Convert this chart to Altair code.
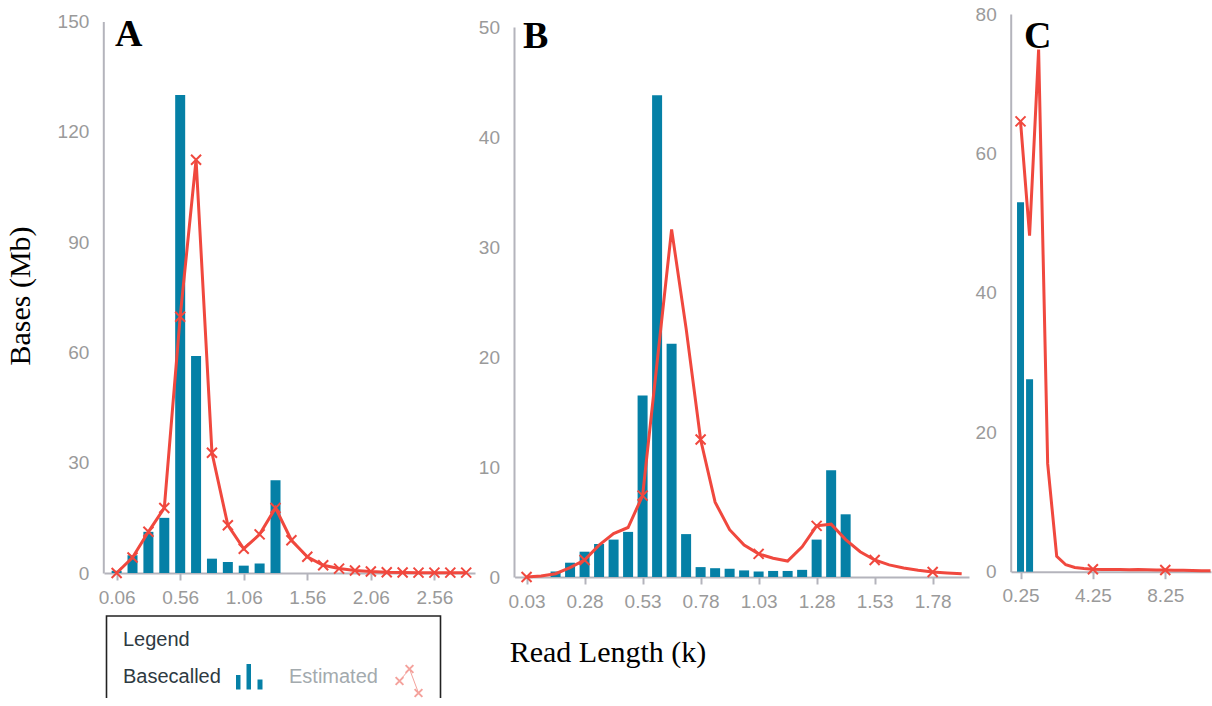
import altair as alt
import pandas as pd

# ---------------- data ----------------
# Panel A
A_BAR_X = [0.06, 0.185, 0.31, 0.435, 0.56, 0.685, 0.81, 0.935, 1.06, 1.185, 1.31]
A_BAR_Y = [0.6, 4.8, 11.2, 15.0, 130.0, 59.0, 3.9, 3.0, 2.0, 2.6, 25.2]
A_LINE_X = [0.06, 0.185, 0.31, 0.435, 0.56, 0.685, 0.81, 0.935, 1.06, 1.185, 1.31, 1.435,
            1.56, 1.685, 1.81, 1.935, 2.06, 2.185, 2.31, 2.435, 2.56, 2.685, 2.81]
A_LINE_Y = [0.0, 4.2, 11.2, 17.7, 69.7, 112.4, 32.7, 13.0, 6.6, 10.5, 17.7, 8.9,
            4.4, 2.1, 1.2, 0.7, 0.4, 0.2, 0.15, 0.1, 0.1, 0.1, 0.1]
A_MARK_X = A_LINE_X
A_XTICKS = [0.06, 0.56, 1.06, 1.56, 2.06, 2.56]
A_YTICKS = [0, 30, 60, 90, 120, 150]

# Panel B
B_BAR_X = [0.155, 0.2175, 0.28, 0.3425, 0.405, 0.4675, 0.53, 0.5925, 0.655, 0.7175, 0.78,
           0.8425, 0.905, 0.9675, 1.03, 1.0925, 1.155, 1.2175, 1.28, 1.3425, 1.405]
B_BAR_Y = [0.5, 1.3, 2.3, 3.0, 3.4, 4.1, 16.5, 43.8, 21.2, 3.9, 0.9,
           0.8, 0.75, 0.6, 0.5, 0.55, 0.55, 0.65, 3.4, 9.7, 5.7]
B_LINE_X = [0.03, 0.0925, 0.155, 0.2175, 0.28, 0.3425, 0.405, 0.4675, 0.53, 0.5925, 0.655,
            0.7175, 0.78, 0.8425, 0.905, 0.9675, 1.03, 1.0925, 1.155, 1.2175, 1.28, 1.3425,
            1.405, 1.4675, 1.53, 1.5925, 1.655, 1.7175, 1.78, 1.8425, 1.905]
B_LINE_Y = [0.0, 0.1, 0.3, 0.85, 1.55, 2.9, 3.95, 4.5, 7.4, 19.5, 31.6,
            22.6, 12.5, 6.8, 4.3, 2.9, 2.1, 1.7, 1.45, 2.75, 4.65, 4.8,
            3.4, 2.3, 1.55, 1.1, 0.82, 0.62, 0.46, 0.37, 0.3]
B_MARK_X = [0.03, 0.28, 0.53, 0.78, 1.03, 1.28, 1.53, 1.78]
B_XTICKS = [0.03, 0.28, 0.53, 0.78, 1.03, 1.28, 1.53, 1.78]
B_YTICKS = [0, 10, 20, 30, 40, 50]

# Panel C
C_BAR_X = [0.25, 0.75]
C_BAR_Y = [53.0, 27.6]
C_LINE_X = [0.25, 0.75, 1.25, 1.75, 2.25, 2.75, 3.25, 3.75, 4.25, 4.75, 5.25,
            5.75, 6.25, 6.75, 7.25, 7.75, 8.25, 8.75, 9.25, 9.75, 10.25, 10.75]
C_LINE_Y = [64.6, 48.2, 74.9, 15.5, 2.2, 1.0, 0.6, 0.45, 0.35, 0.33, 0.3,
            0.3, 0.28, 0.3, 0.28, 0.25, 0.25, 0.2, 0.2, 0.18, 0.15, 0.15]
C_MARK_X = [0.25, 4.25, 8.25]
C_XTICKS = [0.25, 4.25, 8.25]
C_YTICKS = [0, 20, 40, 60, 80]

# ---------------- styling ----------------
W, H = 1212, 698
BAR = "#0580A6"
RED = "#F0483E"
AXIS = "#B4B4BC"
LABEL = "#9A9A9A"
SANS = "Liberation Sans"
SERIF = "Liberation Serif"
XPATH = "M-1,-1L1,1M-1,1L1,-1"


def panel(bx, by, lx, ly, mx, xdom, xrng, ydom, yrng, xticks, yticks,
          axis_x_px, axis_y_px, bar_w, yfmt="d"):
    bars = pd.DataFrame({"x": bx, "y": by})
    line = pd.DataFrame({"x": lx, "y": ly})
    marks = line[line["x"].isin(mx)]
    xaxis = alt.Axis(orient="bottom", offset=axis_y_px - H, values=xticks, format=".2f",
                     title=None, grid=False, domainColor=AXIS, domainWidth=2,
                     tickColor=AXIS, tickWidth=2, tickSize=7, labelPadding=8,
                     labelFont=SANS, labelFontSize=19, labelColor=LABEL,
                     labelFlush=False, labelOverlap=False, labelBound=False)
    yaxis = alt.Axis(orient="left", offset=-axis_x_px, values=yticks, format=yfmt,
                     title=None, grid=False, domainColor=AXIS, domainWidth=2,
                     ticks=True, tickSize=0, labelPadding=14.5,
                     labelFont=SANS, labelFontSize=19, labelColor=LABEL,
                     labelFlush=False, labelOverlap=False, labelBound=False)
    X = alt.X("x:Q", scale=alt.Scale(domain=xdom, range=xrng, nice=False, zero=False), axis=xaxis)
    Y = alt.Y("y:Q", scale=alt.Scale(domain=ydom, range=yrng, nice=False, zero=True), axis=yaxis)
    b = alt.Chart(bars).mark_bar(color=BAR, size=bar_w, orient="vertical").encode(x=X, y=Y)
    l = alt.Chart(line).mark_line(color=RED, strokeWidth=3).encode(x=X, y=Y)
    p = alt.Chart(marks).mark_point(shape=XPATH, filled=False, color=RED, size=100,
                                    strokeWidth=2, opacity=1).encode(x=X, y=Y)
    return alt.layer(b, l, p)


pA = panel(A_BAR_X, A_BAR_Y, A_LINE_X, A_LINE_Y, A_MARK_X,
           [0, 2.84], [104, 475], [0, 150], [573, 21.5], A_XTICKS, A_YTICKS,
           103.3, 573, 10)
pB = panel(B_BAR_X, B_BAR_Y, B_LINE_X, B_LINE_Y, B_MARK_X,
           [0, 1.915], [514.6, 969], [0, 50], [577, 27], B_XTICKS, B_YTICKS,
           514, 577, 10)
pC = panel(C_BAR_X, C_BAR_Y, C_LINE_X, C_LINE_Y, C_MARK_X,
           [0, 10.5], [1011, 1211], [0, 80], [571.7, 14], C_XTICKS, C_YTICKS,
           1010.7, 571.7, 7)

ONE = pd.DataFrame({"k": [0]})


def txt(s, x, y, size, font=SANS, weight="normal", color="#000000", align="left", angle=0):
    kw = dict(text=s, font=font, fontSize=size, fontWeight=weight, color=color,
              align=align, baseline="alphabetic")
    if angle:
        kw["angle"] = angle
    return alt.Chart(ONE).mark_text(**kw).encode(x=alt.value(x), y=alt.value(y))


annotations = [
    txt("A", 115, 46, 38, SERIF, "bold"),
    txt("B", 523, 48, 38, SERIF, "bold"),
    txt("C", 1024, 48, 38, SERIF, "bold"),
    txt("Bases (Mb)", 30, 296, 30, SERIF, angle=270, align="center"),
    txt("Read Length (k)", 608, 662, 30, SERIF, align="center"),
    txt("Legend", 123, 646, 20, SANS, color="#2E3A42"),
    txt("Basecalled", 123, 683, 20, SANS, color="#2E3A42"),
    txt("Estimated", 289, 683, 20, SANS, color="#A3AAAE"),
]

legend_box = alt.Chart(ONE).mark_rect(fill=None, stroke="#222222", strokeWidth=1.6).encode(
    x=alt.value(106.5), x2=alt.value(440.5), y=alt.value(616), y2=alt.value(706))

icon_bars = [
    alt.Chart(ONE).mark_rect(color=BAR).encode(
        x=alt.value(236), x2=alt.value(240.5), y=alt.value(675), y2=alt.value(689.5)),
    alt.Chart(ONE).mark_rect(color=BAR).encode(
        x=alt.value(246.5), x2=alt.value(251), y=alt.value(664), y2=alt.value(689.5)),
    alt.Chart(ONE).mark_rect(color=BAR).encode(
        x=alt.value(257.5), x2=alt.value(262.5), y=alt.value(679.5), y2=alt.value(689.5)),
]

PINK = "#F4A29C"
icon_est = [
    alt.Chart(ONE).mark_rule(color=PINK, strokeWidth=1).encode(
        x=alt.value(399.5), y=alt.value(681), x2=alt.value(409.5), y2=alt.value(669)),
    alt.Chart(ONE).mark_rule(color=PINK, strokeWidth=1).encode(
        x=alt.value(409.5), y=alt.value(669), x2=alt.value(418.5), y2=alt.value(693)),
    alt.Chart(ONE).mark_point(shape=XPATH, filled=False, color=PINK, size=60, strokeWidth=2,
                              opacity=1).encode(x=alt.value(399.5), y=alt.value(681)),
    alt.Chart(ONE).mark_point(shape=XPATH, filled=False, color=PINK, size=60, strokeWidth=2,
                              opacity=1).encode(x=alt.value(409.5), y=alt.value(669)),
    alt.Chart(ONE).mark_point(shape=XPATH, filled=False, color=PINK, size=60, strokeWidth=2,
                              opacity=1).encode(x=alt.value(418.5), y=alt.value(693)),
]

chart = alt.layer(pA, pB, pC, *annotations, legend_box, *icon_bars, *icon_est).resolve_scale(
    x="independent", y="independent"
).properties(
    width=W, height=H, autosize=alt.AutoSizeParams(type="none"), padding=0,
    background="white"
).configure_view(stroke=None)

chart.save("out.html", embed_options={"renderer": "svg", "actions": False})
